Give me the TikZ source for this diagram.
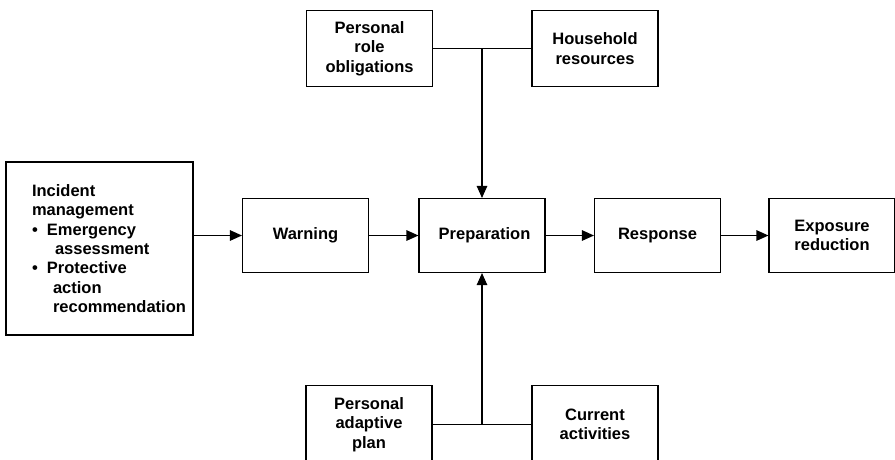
\documentclass[tikz,border=0pt]{standalone}
\usepackage{fontspec}
\setmainfont{Liberation Sans}
\usetikzlibrary{positioning, arrows.meta, calc}

\begin{document}
\begin{tikzpicture}[
				x=1pt, y=-1pt,
				>={Triangle[length=12pt, width=10.5pt]},
				box/.style={draw, line width=1.1pt, align=center, inner sep=2pt,
					font=\fontsize{16.5pt}{19.3pt}\selectfont\bfseries},
				midbox/.style={box, minimum width=126pt, minimum height=74pt},
				sidebox/.style={box, minimum width=126pt, minimum height=76pt},
				arrow/.style={->, line width=1.1pt},
				link/.style={line width=1.1pt}
				]
				
				\useasboundingbox (0,0) rectangle (895,459);
				
				% Cadena principal
				\node[box, minimum width=187pt, minimum height=173pt, align=left] (inc) at (99.5,248.5)
				{Incident\\management\\\makebox[15pt][l]{\textbullet}Emergency\\\hspace*{23pt}assessment\\
					\makebox[15pt][l]{\textbullet}Protective\\\hspace*{21pt}action\\
					\makebox[135pt][l]{\hspace*{21pt}recommendation}};
				\node[midbox] (warn) at (305.5,235.5) {Warning};
				\node[midbox] (prep) at (482,235.5) {\hspace*{5pt}Preparation};
				\node[midbox] (resp) at (657.5,235.5) {Response};
				\node[midbox] (expo) at (832,235.5) {Exposure\\reduction};
				
				% Arriba
				\node[sidebox] (role)  at (369.5,48.5) {Personal\\role\\obligations};
				\node[sidebox] (house) at (595,48.5) {Household\\resources};
				
				% Abajo
				\node[sidebox, minimum height=78pt] (plan) at (369,424.5) {Personal\\adaptive\\plan};
				\node[sidebox, minimum height=78pt] (act)  at (595,424.5) {Current\\activities};
				
				% Flechas
				\draw[arrow] (inc.east |- warn.west) -- (warn.west);
				\draw[arrow] (warn) -- (prep);
				\draw[arrow] (prep) -- (resp);
				\draw[arrow] (resp) -- (expo);
				
				% Uniones
				\coordinate (topj) at (prep.north |- role.east);
				\coordinate (botj) at (prep.south |- plan.east);
				\draw[link] (role.east) -- (house.west);
				\draw[link] (plan.east) -- (act.west);
				\draw[arrow] (topj) -- (prep.north);
				\draw[arrow] (botj) -- (prep.south);
				
			\end{tikzpicture}
\end{document}
